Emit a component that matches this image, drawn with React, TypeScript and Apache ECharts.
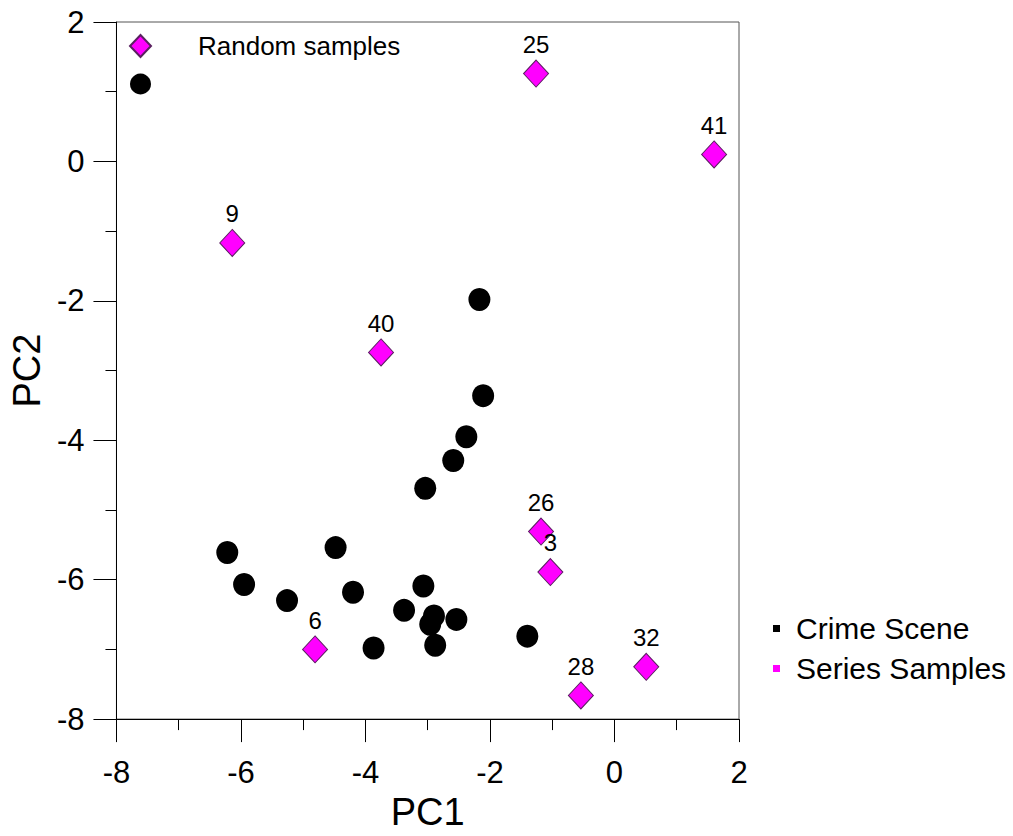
import React, { useEffect, useRef } from "react";
import * as echarts from "echarts";

const crimeScene: [number, number][] = [
  [-2.17, -1.98],
  [-2.11, -3.36],
  [-2.38, -3.95],
  [-2.59, -4.29],
  [-3.04, -4.69],
  [-6.22, -5.61],
  [-4.48, -5.54],
  [-5.95, -6.07],
  [-5.26, -6.3],
  [-4.2, -6.18],
  [-3.07, -6.09],
  [-3.38, -6.44],
  [-2.9, -6.52],
  [-2.96, -6.64],
  [-2.54, -6.57],
  [-3.87, -6.98],
  [-2.88, -6.94],
  [-1.4, -6.81],
];

const sampleIds = ["25", "41", "9", "40", "26", "3", "6", "28", "32"];
const sampleX = [-1.26, 1.6, -6.14, -3.75, -1.18, -1.03, -4.81, -0.54, 0.51];
const sampleY = [1.26, 0.1, -1.17, -2.74, -5.31, -5.89, -7.0, -7.66, -7.25];

const xTicks = { min: -8, max: 2, interval: 2 };
const yTicks = { min: -8, max: 2, interval: 2 };

const NARROW = "'Liberation Sans Narrow', 'Arial Narrow', 'Liberation Sans', Arial, sans-serif";
const SANS = "'Liberation Sans', Arial, sans-serif";
const MAGENTA = "#ff00ff";

export default function App() {
  const ref = useRef<HTMLDivElement>(null);
  useEffect(() => {
    if (!ref.current) return;
    const chart = echarts.init(ref.current, undefined, { renderer: "svg" });
    const axisCommon = {
      axisLine: { show: true, onZero: false, lineStyle: { color: "#000", width: 1 } },
      axisTick: { show: true, inside: false, length: 23, lineStyle: { color: "#000" } },
      minorTick: { show: true, splitNumber: 2, length: 11, lineStyle: { color: "#000" } },
      splitLine: { show: false },
      nameTextStyle: { fontFamily: NARROW, fontSize: 38, color: "#000" },
    };
    chart.setOption({
      animation: false,
      backgroundColor: "#fff",
      grid: {
        left: 116,
        top: 22,
        width: 623,
        height: 698,
        show: true,
        borderColor: "#555",
        borderWidth: 1,
        backgroundColor: "transparent",
      },
      xAxis: {
        type: "value",
        ...xTicks,
        ...axisCommon,
        name: "PC1",
        nameLocation: "middle",
        nameGap: 62,
        axisLabel: { margin: 38, fontFamily: NARROW, fontSize: 31, color: "#000" },
      },
      yAxis: {
        type: "value",
        ...yTicks,
        ...axisCommon,
        name: "PC2",
        nameLocation: "middle",
        nameGap: 64,
        axisLabel: { margin: 32, fontFamily: NARROW, fontSize: 31, color: "#000" },
      },
      legend: [
        {
          orient: "vertical",
          left: 124,
          top: 28,
          itemWidth: 21,
          itemHeight: 22,
          itemGap: 14,
          data: [
            { name: "Random samples", icon: "diamond" },
            { name: "Crime Scene", icon: "circle" },
          ],
          formatter: (n: string) => (n === "Random samples" ? n : ""),
          textStyle: { fontFamily: SANS, fontSize: 26, color: "#000", padding: [0, 0, 0, 42] },
          selectedMode: false,
        },
        {
          orient: "vertical",
          left: 768,
          top: 608,
          itemWidth: 7,
          itemHeight: 7,
          itemGap: 9,
          itemStyle: { borderWidth: 0 },
          data: [
            { name: "Crime Scene", icon: "rect" },
            { name: "Series Samples", icon: "rect" },
          ],
          textStyle: { fontFamily: SANS, fontSize: 30, color: "#000", padding: [0, 0, 0, 11], lineHeight: 31 },
          selectedMode: false,
        },
      ],
      series: [
        {
          name: "Crime Scene",
          type: "scatter",
          symbol: "circle",
          symbolSize: [22, 23],
          itemStyle: { color: "#000", opacity: 1 },
          data: crimeScene,
        },
        {
          name: "Series Samples",
          type: "scatter",
          symbol: "diamond",
          symbolSize: [25, 27],
          itemStyle: { color: MAGENTA, borderColor: "#5a2060", borderWidth: 1, opacity: 1 },
          label: {
            show: true,
            position: "top",
            distance: 3,
            formatter: (p: any) => p.data[2],
            fontFamily: NARROW,
            fontSize: 24,
            color: "#000",
          },
          data: sampleX.map((x, i) => [x, sampleY[i], sampleIds[i]]),
        },
        {
          name: "Random samples",
          type: "scatter",
          symbol: "diamond",
          symbolSize: [20, 22],
          itemStyle: { color: MAGENTA, borderColor: "#5a2060", borderWidth: 1, opacity: 1 },
          data: [],
        },
      ],
    });
    return () => chart.dispose();
  }, []);
  return <div ref={ref} style={{ width: 1013, height: 836, position: "absolute", left: 0, top: 0 }} />;
}
